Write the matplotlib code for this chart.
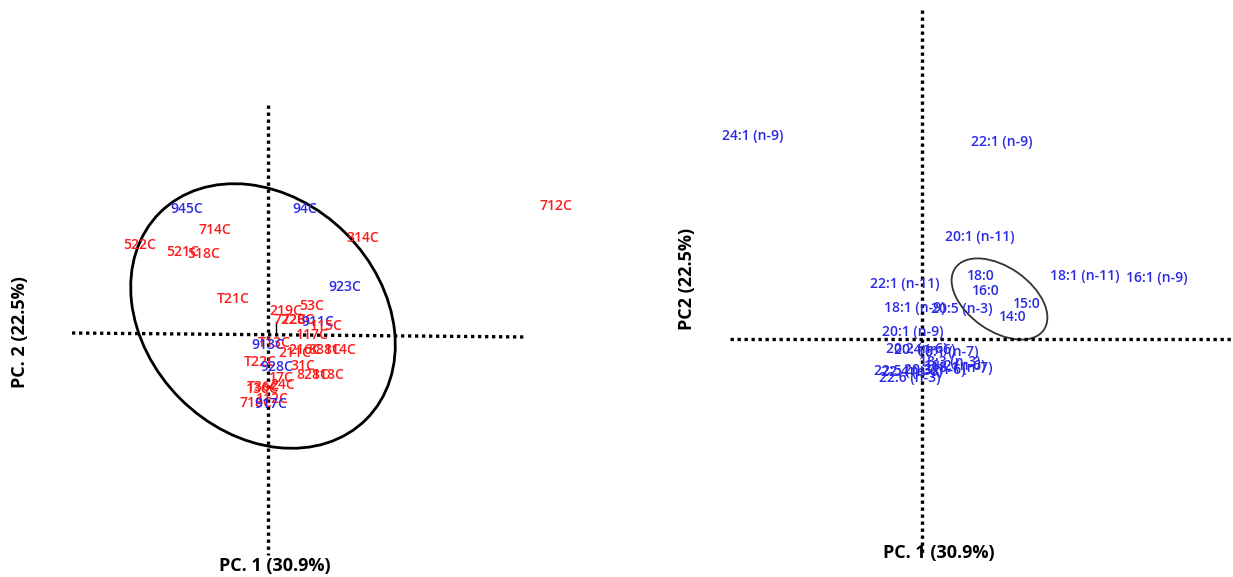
import matplotlib
matplotlib.use("Agg")
import matplotlib.pyplot as plt
from matplotlib.patches import Ellipse

plt.rcParams['font.family'] = ['Open Sans', 'DejaVu Sans']

RED = "#ff1a1a"
BLUE = "#2a2ae6"

# ---- Sample scores (PC1, PC2) ----
sample_labels = [
    "945C", "94C", "712C", "714C", "314C", "522C", "521C", "518C", "T21C", "923C",
    "219C", "53C", "722C", "728C", "911C", "115C", "117C",
    "T13C", "913C", "211C", "216C", "881C", "814C",
    "T22C", "928C", "31C", "821C", "818C", "17C",
    "T36C", "136C", "24C", "112C", "718C", "917C",
]
sample_pc1 = [
    -1.62, 0.74, 5.76, -1.06, 1.90, -2.56, -1.70, -1.28, -0.70, 1.54,
    0.36, 0.88, 0.44, 0.60, 1.00, 1.16, 0.88,
    0.12, 0.00, 0.54, 0.74, 1.14, 1.44,
    -0.16, 0.18, 0.70, 0.90, 1.20, 0.26,
    -0.10, -0.12, 0.30, 0.08, -0.24, 0.06,
]
sample_pc2 = [
    2.52, 2.52, 2.58, 2.10, 1.94, 1.80, 1.66, 1.62, 0.72, 0.96,
    0.48, 0.58, 0.30, 0.30, 0.26, 0.18, 0.00,
    -0.16, -0.20, -0.36, -0.30, -0.30, -0.30,
    -0.54, -0.64, -0.62, -0.80, -0.80, -0.86,
    -1.04, -1.08, -1.00, -1.28, -1.36, -1.38,
]
sample_group = [
    "b", "b", "r", "r", "r", "r", "r", "r", "r", "b",
    "r", "r", "r", "r", "b", "r", "r",
    "r", "b", "r", "r", "r", "r",
    "r", "b", "r", "r", "r", "r",
    "r", "r", "r", "r", "r", "b",
]

# ---- Fatty acid loadings (PC1, PC2) ----
fa_labels = [
    "24:1 (n-9)", "22:1 (n-9)", "20:1 (n-11)", "18:0", "16:0", "18:1 (n-11)",
    "16:1 (n-9)", "22:1 (n-11)", "15:0", "18:1 (n-9)", "20:5 (n-3)", "14:0",
    "20:1 (n-9)", "20:2 (n-6)", "20:4 (n-6)", "16:1 (n-7)", "18:3 (n-3)",
    "18:2 (n-6)", "18:1 (n-7)", "22:5 (n-3)", "22:4 (n-6)", "20:3 (n-6)", "22:6 (n-3)",
]
fa_pc1 = [
    -3.38, 1.60, 1.16, 1.18, 1.28, 3.26,
    4.70, -0.34, 2.10, -0.14, 0.80, 1.82,
    -0.18, -0.10, 0.06, 0.52, 0.56,
    0.66, 0.80, -0.34, -0.20, 0.26, -0.24,
]
fa_pc2 = [
    4.06, 3.94, 2.04, 1.26, 0.96, 1.26,
    1.22, 1.10, 0.70, 0.62, 0.60, 0.44,
    0.14, -0.20, -0.22, -0.26, -0.46,
    -0.54, -0.58, -0.64, -0.66, -0.62, -0.78,
]

fig = plt.figure(figsize=(12.33, 5.77), dpi=100)
fig.patch.set_facecolor("white")

W, H = 1233.0, 577.0
axL = fig.add_axes([0, 0, 620 / W, 1])
axR = fig.add_axes([620 / W, 0, 613 / W, 1])
axL.set_xlim(-5.36, 7.04)
axL.set_ylim(-4.84, 6.70)
axR.set_xlim(-6.04, 6.22)
axR.set_ylim(-4.76, 6.78)
for ax in (axL, axR):
    ax.axis("off")

dot = dict(color="black", lw=2.4, linestyle=(0, (1, 1.1)), dash_capstyle="butt")
lbl = dict(fontsize=10, fontweight="semibold", ha="center", va="center")
axis_lbl = dict(fontsize=13, fontweight="bold", ha="center", va="center")

# Left panel: scores plot
axL.plot([-3.92, 5.18], [0.04, -0.04], **dot)
axL.plot([0, 0], [4.60, -4.40], **dot)
axL.plot([0.16, 0.16], [0.26, 0.0], color="black", lw=1.0)
axL.add_patch(Ellipse((-0.10, 0.38), 5.84, 4.68, angle=-45,
                      fill=False, edgecolor="black", lw=2.0))
for s, x, y, g in zip(sample_labels, sample_pc1, sample_pc2, sample_group):
    axL.text(x, y, s, color=RED if g == "r" else BLUE, **lbl)
axL.text(0.14, -4.61, "PC. 1 (30.9%)", **axis_lbl)
axL.text(-4.96, 0.06, "PC. 2 (22.5%)", rotation=90, **axis_lbl)

# Right panel: loadings plot
axR.plot([-3.84, 6.22], [0, 0], **dot)
axR.plot([0, 0], [6.58, -4.32], **dot)
axR.add_patch(Ellipse((1.55, 0.80), 2.16, 1.28, angle=-35,
                      fill=False, edgecolor="#333333", lw=1.3))
for s, x, y in zip(fa_labels, fa_pc1, fa_pc2):
    axR.text(x, y, s, color=BLUE, **lbl)
axR.text(0.34, -4.28, "PC. 1 (30.9%)", **axis_lbl)
axR.text(-4.70, 1.20, "PC2 (22.5%)", rotation=90, **axis_lbl)

fig.savefig("out.png", dpi=100, facecolor="white")
